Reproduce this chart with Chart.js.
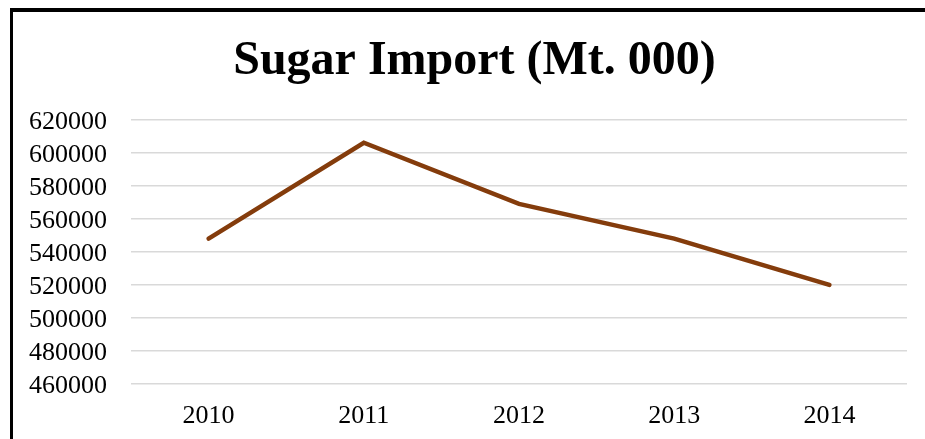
<!DOCTYPE html>
<html>
<head>
<meta charset="utf-8">
<script src="https://cdn.jsdelivr.net/npm/chart.js@4/dist/chart.umd.min.js"></script>
<style>
  html, body { margin: 0; padding: 0; background: #fff; overflow: hidden; }
  #wrap { position: absolute; left: 0; top: 0; width: 925px; height: 439px; }
  #frame { position: absolute; left: 10px; top: 8px; width: 1200px; height: 1200px;
           border-left: 3px solid #000; border-top: 4px solid #000; pointer-events: none; }
</style>
</head>
<body>
<div id="wrap"><canvas id="c" width="925" height="439"></canvas></div>
<div id="frame"></div>
<script>
const years = ['2010', '2011', '2012', '2013', '2014'];
const sugarImport = [548000, 606000, 569000, 548000, 520000];
const yMin = 460000;
const yMax = 620000;
const yStep = 20000;

const serif = '"Liberation Serif", "Times New Roman", serif';

const shiftTitle = {
  id: 'shiftTitle',
  afterLayout(chart) {
    const t = chart.titleBlock;
    if (t) { t.left += 7; t.right += 7; }
  }
};

new Chart(document.getElementById('c'), {
  type: 'line',
  data: {
    labels: years,
    datasets: [{
      label: 'Sugar Import',
      data: sugarImport,
      borderColor: '#843C0C',
      backgroundColor: '#843C0C',
      borderWidth: 4.5,
      borderCapStyle: 'round',
      borderJoinStyle: 'miter',
      pointRadius: 0,
      tension: 0,
      fill: false
    }]
  },
  plugins: [shiftTitle],
  options: {
    responsive: false,
    animation: false,
    layout: { padding: { left: 28, right: 18, top: 0, bottom: 10 } },
    plugins: {
      legend: { display: false },
      tooltip: { enabled: false },
      title: {
        display: true,
        text: 'Sugar Import (Mt. 000)',
        color: '#000',
        font: { family: serif, size: 48, weight: 'bold' },
        padding: { top: 33, bottom: 29 }
      }
    },
    scales: {
      x: {
        offset: true,
        afterFit: (axis) => { axis.height = 45; axis.paddingLeft = 0; axis.paddingRight = 0; },
        grid: { display: false, drawTicks: false },
        border: { display: false },
        ticks: { color: '#000', font: { family: serif, size: 26 }, padding: 17, maxRotation: 0, autoSkip: false }
      },
      y: {
        min: yMin,
        max: yMax,
        afterFit: (axis) => { axis.width = 103; axis.paddingTop = 0; axis.paddingBottom = 0; },
        grid: { color: '#d9d9d9', lineWidth: 1.5, drawTicks: false },
        border: { display: false },
        ticks: {
          stepSize: yStep,
          autoSkip: false,
          color: '#000',
          padding: 24,
          labelOffset: 2.5,
          font: { family: serif, size: 26 },
          callback: (v) => String(v)
        }
      }
    }
  }
});
</script>
</body>
</html>
